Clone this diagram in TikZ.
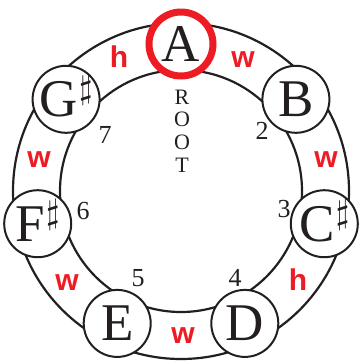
\documentclass[tikz,border=0pt]{standalone}
\usepackage{fontspec}
\usepackage{graphicx}
\setmainfont{Liberation Serif}
\newfontfamily\labfont{Liberation Sans}
\definecolor{ink}{HTML}{231F20}
\definecolor{hred}{HTML}{ED1C24}
\newcommand\shp{\kern1pt\raisebox{18pt}{\fontsize{10}{10}\selectfont\scalebox{3.45}{$\sharp$}}}
\begin{document}
\begin{tikzpicture}[x=1pt,y=-1pt,
  note/.style={circle,draw=ink,line width=2pt,fill=white,minimum size=67pt,
    inner sep=0pt,text=ink,font=\fontsize{53}{53}\selectfont,
    text height=35pt,text depth=0pt},
  rootnote/.style={note,draw=hred,line width=7pt,minimum size=64pt},
  ring/.style={draw=ink,line width=2.2pt},
  ival/.style={text=hred,inner sep=0pt,font=\labfont\bfseries\fontsize{30}{30}\selectfont},
  deg/.style={text=ink,inner sep=0pt,font=\fontsize{26}{26}\selectfont},
  rootlab/.style={text=ink,inner sep=0pt,font=\fontsize{22}{22}\selectfont}]
\useasboundingbox (0,0) rectangle (362,360);
\coordinate (c) at (181,191);
\draw[ring] (c) circle (168pt);
\draw[ring] (c) circle (121pt);
% notes
\node[rootnote] (A) at (181,44) {A};
\node[note] (B) at (295.9,99.3) {B};
\node[note] (Cs) at (324.3,223.7) {C\shp};
\node[note] (D) at (244.8,323.4) {D};
\node[note] (E) at (117.2,323.4) {E};
\node[note] (Fs) at (37.7,223.7) {F\shp};
\node[note] (Gs) at (66.1,99.3) {G\shp};
% interval labels
\node[ival] (iAB) at (243,60) {w};
\node[ival] (iBC) at (326,160) {w};
\node[ival] (iCD) at (298,280) {h};
\node[ival] (iDE) at (183,336) {w};
\node[ival] (iEF) at (67,283) {w};
\node[ival] (iFG) at (39,160) {w};
\node[ival] (iGA) at (119,57) {h};
% degrees
\node[deg] (d2) at (262,131) {2};
\node[deg] (d3) at (284,209) {3};
\node[deg] (d4) at (235,278) {4};
\node[deg] (d5) at (138,278) {5};
\node[deg] (d6) at (83,211) {6};
\node[deg] (d7) at (105,135) {7};
% ROOT
\node[rootlab] (r1) at (182,97) {R};
\node[rootlab] (r2) at (182,119.5) {O};
\node[rootlab] (r3) at (182,142) {O};
\node[rootlab] (r4) at (182,165) {T};
\end{tikzpicture}
\end{document}
